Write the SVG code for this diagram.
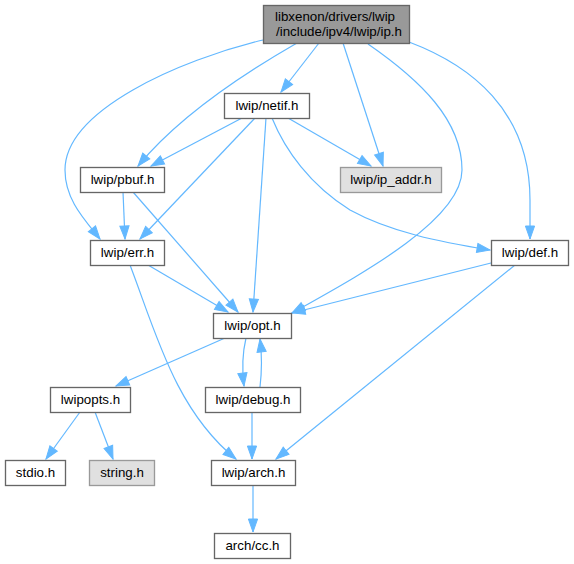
<svg xmlns="http://www.w3.org/2000/svg" width="574" height="564" viewBox="0 0 574 564">
<style>
.n rect{fill:#ffffff;stroke:#666666;stroke-width:1.33}
.n text{font-family:"Liberation Sans",Arial,sans-serif;font-size:13.33px;fill:#000000;text-anchor:middle}
.g rect{fill:#e0e0e0;stroke:#999999}
.m rect{fill:#999999;stroke:#666666}
.m text{text-anchor:start}
.e path{fill:none;stroke:#63b8ff;stroke-width:1.2;marker-end:url(#ah)}
</style>
<defs>
<marker id="ah" markerUnits="userSpaceOnUse" markerWidth="16" markerHeight="12" viewBox="-1 -6 16 12" refX="13" refY="0" orient="auto">
<path d="M0,-4.6 L13,0 L0,4.6 Z" fill="#63b8ff" stroke="#63b8ff" stroke-width="1"/>
</marker>
</defs>
<rect width="574" height="564" fill="#ffffff"/>
<g class="e" id="edges">
<path d="M319,43 L281,92"/>
<path d="M297,43 C250,70 180,115 138,166"/>
<path d="M263,40 C180,60 65,110 65,170 C65,200 85,220 100,239"/>
<path d="M343,43 L383,166"/>
<path d="M368,44 C420,80 462,120 462,170 C462,220 360,275 292,313"/>
<path d="M409,42 C470,65 530,110 530,200 L530,239"/>
<path d="M242,118 L151,166"/>
<path d="M288,118 L371,166"/>
<path d="M255,118 L140,239"/>
<path d="M266,118 L253,312"/>
<path d="M272,118 C285,150 310,185 350,210 C390,232 440,242 490,250"/>
<path d="M123,192 L125,239"/>
<path d="M133,192 L238,312"/>
<path d="M148,265 L228,312"/>
<path d="M130,265 C155,330 175,410 236,459"/>
<path d="M491,263 L292,313"/>
<path d="M515,265 L276,459"/>
<path d="M225,338 L116,386"/>
<path d="M246,338 C242,355 242,370 244,386"/>
<path d="M260,387 C262,370 262,355 260,339"/>
<path d="M252,412 L252,459"/>
<path d="M80,412 L46,459"/>
<path d="M95,412 L113,459"/>
<path d="M253,485 L253,532"/>
</g>
<g class="n m" id="node_ip"><rect x="263.5" y="5.5" width="146" height="38"/><text x="275" y="21">libxenon/drivers/lwip</text><text x="276" y="36">/include/ipv4/lwip/ip.h</text></g>
<g class="n" id="node_netif"><rect x="224.5" y="93.5" width="85" height="25"/><text x="267" y="110">lwip/netif.h</text></g>
<g class="n" id="node_pbuf"><rect x="80.5" y="167.5" width="84" height="25"/><text x="122.5" y="184">lwip/pbuf.h</text></g>
<g class="n g" id="node_ip_addr"><rect x="340.5" y="167.5" width="101" height="25"/><text x="391" y="184">lwip/ip_addr.h</text></g>
<g class="n" id="node_err"><rect x="90.5" y="240.5" width="74" height="25"/><text x="127.5" y="257">lwip/err.h</text></g>
<g class="n" id="node_def"><rect x="491.5" y="240.5" width="77" height="25"/><text x="530" y="257">lwip/def.h</text></g>
<g class="n" id="node_opt"><rect x="213.5" y="313.5" width="78" height="25"/><text x="252.5" y="330">lwip/opt.h</text></g>
<g class="n" id="node_lwipopts"><rect x="50.5" y="387.5" width="80" height="25"/><text x="90.5" y="404">lwipopts.h</text></g>
<g class="n" id="node_debug"><rect x="205.5" y="387.5" width="95" height="25"/><text x="253" y="404">lwip/debug.h</text></g>
<g class="n" id="node_stdio"><rect x="5.5" y="460.5" width="60" height="25"/><text x="35.5" y="477">stdio.h</text></g>
<g class="n g" id="node_string"><rect x="89.5" y="460.5" width="65" height="25"/><text x="122" y="477">string.h</text></g>
<g class="n" id="node_arch"><rect x="211.5" y="460.5" width="84" height="25"/><text x="253.5" y="477">lwip/arch.h</text></g>
<g class="n" id="node_cc"><rect x="214.5" y="533.5" width="76" height="25"/><text x="252.5" y="550">arch/cc.h</text></g>
</svg>
